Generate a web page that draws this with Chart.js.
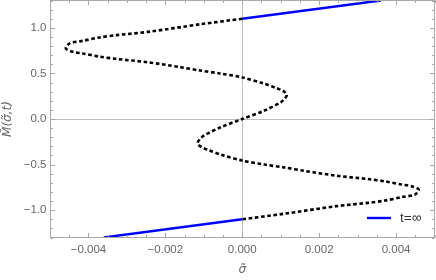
<!DOCTYPE html>
<html>
<head>
<meta charset="utf-8">
<script src="https://cdn.jsdelivr.net/npm/chart.js@4"></script>
<style>
  html, body { margin: 0; padding: 0; background: #fff; }
</style>
</head>
<body>
<canvas id="chart" width="436" height="280"></canvas>
<script>
// dotted S-curve (sigma, M pairs in path order)
const sigmaCurve = [0, -0.00110, -0.00245, -0.00327, -0.00371, -0.00415, -0.00449, -0.00459, -0.00440, -0.00415,
  -0.00371, -0.00327, -0.00245, -0.00163, -0.00110, -0.00058, 0, 0.00054, 0.00090, 0.00107,
  0.00116, 0.00111, 0.00100, 0.00056, 0,
  -0.00056, -0.00100, -0.00111, -0.00116, -0.00107, -0.00090, -0.00054, 0, 0.00058, 0.00110,
  0.00163, 0.00245, 0.00327, 0.00371, 0.00415, 0.00440, 0.00459, 0.00449, 0.00415, 0.00371,
  0.00327, 0.00245, 0.00110, 0];
const mCurve = [1.10, 1.039, 0.956, 0.92, 0.895, 0.857, 0.829, 0.774, 0.737, 0.719,
  0.684, 0.659, 0.622, 0.57, 0.532, 0.50, 0.456, 0.392, 0.337, 0.306,
  0.265, 0.225, 0.183, 0.09, 0,
  -0.09, -0.183, -0.225, -0.265, -0.306, -0.337, -0.392, -0.456, -0.50, -0.532,
  -0.57, -0.622, -0.659, -0.684, -0.719, -0.737, -0.774, -0.829, -0.857, -0.895,
  -0.92, -0.956, -1.039, -1.10];

// t = infinity branches
const sigmaUpper = [0, 0.0036];
const mUpper = [1.10, 1.30];
const sigmaLower = [-0.0036, 0];
const mLower = [-1.30, -1.10];

const xMajorTicks = [-0.004, -0.002, 0, 0.002, 0.004];
const yMajorTicks = [-1.0, -0.5, 0, 0.5, 1.0];
const legendLabel = "t=\u221e";

function toPoints(xs, ys) {
  return xs.map((v, i) => ({ x: v, y: ys[i] }));
}
function isMajor(v, list) {
  return list.some(m => Math.abs(m - v) < 1e-9);
}
function fmt(v, digits) {
  if (Math.abs(v) < 1e-12) v = 0;
  return v.toFixed(digits).replace('-', '\u2212');
}

const labelFont = { family: "'Liberation Sans', Arial, sans-serif", size: 11.5 };
const titleFont = { family: "'DejaVu Sans', sans-serif", size: 12, style: 'italic' };

// Mathematica-like frame with inward ticks on all four sides
const frameTicks = {
  id: 'frameTicks',
  afterDatasetsDraw(chart) {
    const { ctx, chartArea: a, scales: { x, y } } = chart;
    const L = Math.floor(a.left) + 0.5, R = Math.floor(a.right) + 0.5;
    const T = Math.floor(a.top) + 0.5, B = Math.floor(a.bottom) + 0.5;
    ctx.save();
    ctx.strokeStyle = '#a8a8a8';
    ctx.lineWidth = 1;
    ctx.strokeRect(L, T, R - L, B - T);
    ctx.beginPath();
    x.ticks.forEach(t => {
      const px = Math.round(x.getPixelForValue(t.value)) + 0.5;
      const len = isMajor(t.value, xMajorTicks) ? 4.5 : 2.5;
      ctx.moveTo(px, B); ctx.lineTo(px, B - len);
      ctx.moveTo(px, T); ctx.lineTo(px, T + len);
    });
    y.ticks.forEach(t => {
      const py = Math.round(y.getPixelForValue(t.value)) + 0.5;
      const len = isMajor(t.value, yMajorTicks) ? 4.5 : 2.5;
      ctx.moveTo(L, py); ctx.lineTo(L + len, py);
      ctx.moveTo(R, py); ctx.lineTo(R - len, py);
    });
    ctx.stroke();

    // legend inside the plot, bottom right
    const ly = a.bottom - 19.5;
    ctx.strokeStyle = '#0000ff';
    ctx.lineWidth = 2.4;
    ctx.beginPath();
    ctx.moveTo(a.right - 67.5, ly);
    ctx.lineTo(a.right - 43.5, ly);
    ctx.stroke();
    ctx.fillStyle = '#333';
    ctx.font = "13.5px 'Liberation Sans', Arial, sans-serif";
    ctx.textBaseline = 'middle';
    ctx.fillText(legendLabel, a.right - 34.5, ly);
    ctx.restore();
  }
};

new Chart(document.getElementById('chart'), {
  type: 'scatter',
  data: {
    datasets: [
      {
        data: toPoints(sigmaCurve, mCurve),
        showLine: true,
        borderColor: '#000',
        borderWidth: 2.6,
        borderDash: [3.6, 2.6],
        tension: 0.3,
        pointRadius: 0
      },
      {
        label: legendLabel,
        data: toPoints(sigmaUpper, mUpper),
        showLine: true,
        borderColor: '#0000ff',
        borderWidth: 2.4,
        pointRadius: 0
      },
      {
        label: legendLabel,
        data: toPoints(sigmaLower, mLower),
        showLine: true,
        borderColor: '#0000ff',
        borderWidth: 2.4,
        pointRadius: 0
      }
    ]
  },
  options: {
    responsive: false,
    animation: false,
    devicePixelRatio: 1,
    layout: { padding: { top: 0.5, right: 1.5, bottom: 0, left: 0 } },
    plugins: { legend: { display: false }, tooltip: { enabled: false } },
    scales: {
      x: {
        type: 'linear',
        min: -0.005,
        max: 0.005,
        afterFit(scale) {
          scale.height = 42.5;
          scale.paddingLeft = 0;
          scale.paddingRight = 0;
        },
        border: { display: false },
        grid: {
          drawTicks: false,
          color: c => (c.tick && Math.abs(c.tick.value) < 1e-12) ? '#bdbdbd' : 'rgba(0,0,0,0)'
        },
        ticks: {
          stepSize: 0.0005,
          maxTicksLimit: 100,
          autoSkip: false,
          maxRotation: 0,
          padding: 5,
          color: '#666',
          font: labelFont,
          callback: v => isMajor(v, xMajorTicks) ? fmt(v, 3) : ''
        },
        title: {
          display: true,
          text: '\u03c3\u0303',
          color: '#666',
          font: titleFont,
          padding: { top: 0, bottom: 3 }
        }
      },
      y: {
        type: 'linear',
        min: -1.3,
        max: 1.3,
        afterFit(scale) {
          scale.width = 50;
          scale.paddingTop = 0;
          scale.paddingBottom = 0;
        },
        border: { display: false },
        grid: {
          drawTicks: false,
          color: c => (c.tick && Math.abs(c.tick.value) < 1e-12) ? '#bdbdbd' : 'rgba(0,0,0,0)'
        },
        ticks: {
          stepSize: 0.1,
          maxTicksLimit: 100,
          autoSkip: false,
          padding: 3.5,
          color: '#666',
          font: labelFont,
          callback: v => isMajor(v, yMajorTicks) ? fmt(v, 1) : ''
        },
        title: {
          display: true,
          text: 'M\u0303(\u03c3\u0303,t)',
          color: '#666',
          font: titleFont,
          padding: { top: 1, bottom: 0 }
        }
      }
    }
  },
  plugins: [frameTicks]
});
</script>
</body>
</html>
